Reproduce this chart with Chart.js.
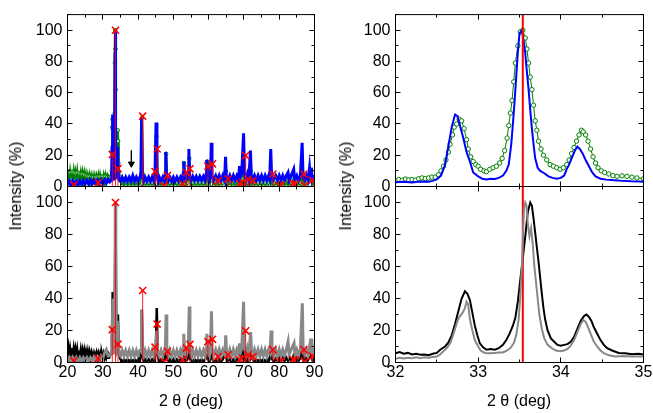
<!DOCTYPE html>
<html>
<head>
<meta charset="utf-8">
<script src="https://cdn.jsdelivr.net/npm/chart.js@4.4.0/dist/chart.umd.min.js"></script>
<style>
  html,body{margin:0;padding:0;background:#fff;}
  #wrap{position:relative;width:653px;height:413px;background:#fff;overflow:hidden;}
  #wrap canvas{position:absolute;left:0;top:0;}
  .t{position:absolute;font:16px 'Liberation Sans',Arial,sans-serif;color:#000;white-space:nowrap;transform:translate(-50%,-50%);}
  .ty{transform:translate(-50%,-50%) rotate(-90deg);}
</style>
</head>
<body>
<div id="wrap">
  <canvas id="cTL" width="653" height="413"></canvas>
  <canvas id="cBL" width="653" height="413"></canvas>
  <canvas id="cTR" width="653" height="413"></canvas>
  <canvas id="cBR" width="653" height="413"></canvas>
  <div class="t ty" style="left:16px;top:186px;">Intensity (%)</div>
  <div class="t ty" style="left:346px;top:186px;">Intensity (%)</div>
  <div class="t" style="left:191px;top:401px;">2 θ (deg)</div>
  <div class="t" style="left:519px;top:401px;">2 θ (deg)</div>
</div>
<script>
// ---------------- DATA ----------------
// full-range patterns (2theta, intensity %)
const vf474Wide = [[20,3.5],[20.25,9.5],[20.5,4],[20.75,9],[21,4.5],[21.25,9.5],[21.5,4],[21.75,9],[22,4],[22.25,8.5],[22.5,4.5],[22.75,9],[23,3.5],[23.25,8.5],[23.5,4],[23.75,8],[24,3.5],[24.25,8],[24.5,3.5],[24.75,7.5],[25,3],[25.25,7],[25.5,3],[25.75,6.5],[26,3],[26.25,6.5],[26.5,2.5],[26.75,6],[27,2.5],[27.25,6],[27.5,2.5],[27.75,6],[28,2.5],[28.25,6],[28.5,3],[28.75,6.5],[29,2.5],[29.25,6.5],[29.5,3],[29.75,6.5],[30,3],[30.25,6.5],[30.5,3],[30.75,6.5],[31,3],[31.25,6],[31.5,3.5],[31.75,6],[32,5],[32.3,6],[32.55,10],[32.64,22],[32.71,38],[32.77,43],[32.83,37],[32.88,24],[32.94,16],[33.0,13],[33.1,9.5],[33.22,13],[33.32,23],[33.39,47],[33.45,79],[33.51,99],[33.54,100],[33.59,88],[33.65,62],[33.71,36],[33.79,20],[33.91,13],[33.99,11],[34.1,17],[34.19,29],[34.25,36],[34.33,29],[34.42,15],[34.53,9],[34.68,6.5],[35,4],[35.5,0.3],[36,2.5],[36.5,0.3],[37,2.5],[37.5,0.3],[38,2.5],[38.5,0.3],[39,2.5],[39.5,0.3],[40,2.5],[40.5,0.3],[40.9,8],[41.1,44],[41.3,8],[41.7,0.3],[42,2.5],[42.5,0.3],[43,2.5],[43.5,0.3],[44,2.5],[44.5,0.3],[44.9,7],[45.2,32],[45.5,7],[45.8,0.3],[46.5,2.5],[47,0.3],[47.5,2.5],[47.7,6],[47.95,21],[48.2,5],[48.6,0.3],[49,2.5],[49.5,0.3],[50,2.5],[50.5,0.3],[51,2.5],[51.5,0.3],[52,2.5],[52.5,0.3],[52.75,6],[53.0,15],[53.25,5],[53.6,0.3],[54.0,2.5],[54.25,7],[54.5,18],[54.75,5],[55.2,0.3],[55.5,2.5],[56,0.3],[56.5,2.5],[57,0.3],[57.5,2.5],[58,0.3],[58.5,2.5],[59,0.3],[59.3,6],[59.55,16],[59.8,5],[60.2,0.3],[60.55,7],[60.8,15],[61.05,4],[61.5,0.3],[62,2.5],[62.5,0.3],[63,2.5],[63.5,0.3],[64,2.5],[64.6,4],[64.85,10],[65.1,0.3],[65.5,2.5],[66,0.3],[66.5,2.5],[67,0.3],[67.5,2.5],[68,0.3],[68.5,4],[68.8,8],[69.1,0.3],[69.6,5],[69.9,20],[70.2,4],[70.6,0.3],[71,2.5],[71.5,0.3],[71.9,10],[72.2,3],[72.6,0.3],[73,2.5],[73.5,0.3],[74,2.5],[74.5,0.3],[75,2.5],[75.5,0.3],[76,2.5],[76.5,0.3],[77,2.5],[77.4,4],[77.65,9],[77.9,0.3],[78.5,2.5],[79,0.3],[79.5,2.5],[80,0.3],[80.5,2.5],[81,0.3],[81.5,2.5],[82,0.3],[82.5,4],[83,0.3],[83.5,2.5],[84.1,5],[84.5,0.3],[85,2.5],[85.5,0.3],[86,2.5],[86.5,10],[86.8,0.3],[87.2,2.5],[87.5,0.3],[88,2.5],[88.6,5],[89.1,5],[89.5,0.3],[90,2.5]];

const vf527Wide = [[20,1],[20.5,3.5],[21,1],[21.5,3.5],[22,1.2],[22.5,3.5],[23,1.2],[23.5,3.5],[24,1.3],[24.5,3.6],[25,1.5],[25.5,3.8],[26,1.5],[26.5,4],[27,1.8],[27.5,4],[28,1.8],[28.5,4],[29,2],[29.5,4.2],[30,2],[30.5,4.2],[31,2.2],[31.5,4.5],[32,3],[32.4,4],[32.55,7],[32.64,26],[32.72,46],[32.79,37],[32.86,22],[32.94,9],[33.05,5],[33.2,4.8],[33.34,10],[33.42,40],[33.48,86],[33.53,100],[33.59,73],[33.65,37],[33.72,12],[33.85,6.5],[33.95,5],[34.07,11],[34.2,25.5],[34.3,17],[34.42,6.5],[34.6,4.2],[35,3.5],[35.5,6],[36,3.5],[36.5,6],[37,3.5],[37.5,6],[38,3.5],[38.5,7],[39,3.5],[39.5,6],[40,3.5],[40.5,6],[40.8,8],[41.0,44],[41.2,7],[41.6,3.5],[42,6],[42.5,3.5],[43,6],[43.5,3.5],[44,6],[44.5,3.5],[44.8,8],[45.1,41],[45.35,8],[45.7,3.5],[46,6],[46.5,3.5],[47,6],[47.5,3.5],[47.7,8],[47.85,22],[48.05,6],[48.5,3.5],[49,6],[49.5,3.5],[50,6],[50.5,3.5],[51,6],[51.5,3.5],[52,6],[52.5,4],[52.75,8],[52.95,16],[53.2,6],[53.6,4],[54,6],[54.2,8],[54.4,24],[54.6,6],[55,4],[55.5,6.5],[56,4],[56.5,6.5],[57,4],[57.5,6.5],[58,4],[58.5,6.5],[59,4],[59.3,8],[59.5,17],[59.7,6],[60.2,4],[60.55,9],[60.75,28],[60.95,7],[61.4,4],[62,7],[62.5,4],[63,7],[63.5,4],[64,7],[64.5,4],[64.8,19],[65.0,6],[65.5,4],[66,7],[66.5,4],[67,7],[67.5,4],[68,7],[68.5,4.5],[68.75,13],[68.95,6],[69.4,9],[69.9,34],[70.15,8],[70.6,4.5],[71,8],[71.4,4.5],[71.85,23],[72.1,6],[72.5,4],[73,7],[73.5,4],[74,7],[74.5,4],[75,7],[75.5,4],[76,7],[76.5,4],[77,7],[77.3,5],[77.6,24],[77.85,6],[78.3,4],[79,7],[79.5,4],[80,7],[80.5,4],[81,7],[81.5,4],[82,7],[82.5,9],[82.8,4],[83.4,7],[84.1,11],[84.4,4],[85,7],[85.5,4],[86,7],[86.5,28],[86.75,6],[87.2,4],[87.7,7],[88.2,4],[88.6,12],[88.9,4.5],[89.1,12],[89.4,4],[90,7]];

const vf467Wide = [[20,4],[20.25,9],[20.5,4],[20.75,8.5],[21,4.5],[21.25,9],[21.5,4],[21.75,8.5],[22,4],[22.25,8],[22.5,4],[22.75,8],[23,3.5],[23.25,7.5],[23.5,3.5],[23.75,7.5],[24,3],[24.25,7],[24.5,3],[24.75,7],[25,3],[25.25,6.5],[25.5,3],[25.75,6.5],[26,2.5],[26.25,6],[26.5,2.5],[26.75,5.5],[27,2],[27.25,5],[27.5,2],[27.75,5],[28,2.5],[28.25,5.5],[28.5,2.5],[28.75,5.5],[29,3],[29.25,5.5],[29.5,3],[29.75,5.5],[30,3],[30.25,5.5],[30.5,3],[30.75,5.5],[31,3],[31.25,5],[31.5,3],[31.75,5],[32,4],[32.4,6],[32.6,15],[32.8,44],[33.0,15],[33.2,8],[33.4,30],[33.62,100],[33.8,25],[34.0,10],[34.15,18],[34.3,30],[34.45,15],[34.6,5],[35,2],[35.5,0.5],[36,2],[36.5,0.5],[37,2],[37.5,0.5],[38,2],[38.5,0.5],[39,2],[39.5,0.5],[40,2],[40.5,0.5],[40.85,6],[41.05,33],[41.25,5],[41.6,0.5],[42,2],[42.5,0.5],[43,2],[43.5,0.5],[44,2],[44.5,0.5],[45.0,6],[45.3,34],[45.55,5],[46,0.5],[46.5,2],[47,0.5],[47.5,2],[47.7,4],[47.95,10],[48.2,2],[48.6,0.5],[49,2],[49.5,0.5],[50,2],[50.5,0.5],[51,2],[51.5,0.5],[52,2],[52.5,0.5],[53,6],[53.3,0.5],[54,2],[54.5,10],[54.8,2],[55.5,0.5],[56,2],[56.5,0.5],[57,2],[57.5,0.5],[58,2],[58.5,0.5],[59,2],[59.5,6],[59.8,2],[60.3,0.5],[60.8,9],[61.1,2],[61.5,0.5],[62,2],[62.5,0.5],[63,2],[63.5,0.5],[64,2],[64.9,6],[65.2,0.5],[66,2],[66.5,0.5],[67,2],[67.5,0.5],[68,2],[68.5,0.5],[69,2],[69.9,10],[70.2,2],[70.6,0.5],[71,2],[71.5,0.5],[72.1,6],[72.4,2],[73,0.5],[73.5,2],[74,0.5],[74.5,2],[75,0.5],[75.5,2],[76,0.5],[76.5,2],[77,0.5],[77.7,6],[78,2],[78.5,0.5],[79,2.5],[79.5,1],[80,3],[80.5,1],[81,3],[81.5,1],[82,3],[82.5,1],[83,3],[83.5,1],[84,4],[84.5,1],[85,3],[85.5,1],[86,3],[86.6,10],[86.9,1],[87.5,3],[88,1],[88.5,3],[89,4],[89.5,1],[90,3]];

const vf526Wide = [[20,0.5],[20.5,3],[21,0.5],[21.5,3],[22,0.5],[22.5,3],[23,0.5],[23.5,3],[24,0.8],[24.5,3],[25,1],[25.5,3],[26,1],[26.5,3],[27,1],[27.5,3.5],[28,1],[28.5,3.5],[29,1.5],[29.5,4],[30,2.5],[30.5,6],[31,8],[31.5,4],[32,4],[32.4,6],[32.6,15],[32.85,40],[33.0,12],[33.2,6],[33.4,25],[33.56,100],[33.7,40],[33.9,8],[34.1,10],[34.28,26],[34.45,10],[34.6,5],[35,4],[35.5,7.5],[36,4],[36.5,7.5],[37,4],[37.5,7.5],[38,4],[38.5,7.5],[39,4],[39.5,7.5],[40,4],[40.5,7.5],[40.85,8],[41.05,33],[41.25,6],[41.6,4],[42,7.5],[42.5,4],[43,7.5],[43.5,4],[44,7.5],[44.5,4],[45.0,7],[45.3,20],[45.55,6],[46,4],[46.5,7.5],[47,4],[47.5,7.5],[47.75,10],[47.95,30],[48.15,6],[48.6,4],[49,7.5],[49.5,4],[50,7.5],[50.5,4],[51,7.5],[51.5,4],[52,7.5],[52.5,4],[52.75,9],[52.95,18],[53.2,6],[53.6,4],[54,7.5],[54.25,10],[54.5,35],[54.7,7],[55.2,4],[55.5,7.5],[56,4],[56.5,7.5],[57,4],[57.5,7.5],[58,4],[58.5,7.5],[59,4],[59.3,9],[59.5,18],[59.7,7],[60.2,4],[60.55,10],[60.8,32],[61.0,8],[61.4,4],[62,8],[62.5,4],[63,8],[63.5,4],[64,8],[64.6,5],[64.85,17],[65.1,6],[65.5,4],[66,8],[66.5,4],[67,8],[67.5,4],[68,8],[68.5,5],[68.75,12],[69,6],[69.4,9],[69.9,38],[70.15,9],[70.6,5],[71,9],[71.4,5],[71.9,19],[72.15,7],[72.5,4],[73,8],[73.5,4],[74,8],[74.5,4],[75,8],[75.5,4],[76,8],[76.5,4],[77,8],[77.4,6],[77.7,20],[77.95,7],[78.4,4],[79,8],[79.5,4],[80,8],[80.5,4],[81,8],[81.5,4.5],[82,8],[82.5,13],[82.8,5],[83.4,8],[84.2,12],[84.5,4.5],[85,8],[85.5,4.5],[86,8],[86.55,37],[86.8,6],[87.2,4.5],[87.7,8],[88.2,5],[88.6,10],[88.9,5],[89.2,15],[89.5,5],[90,8]];

// calculated reference reflections (positions, intensities)
const refPos = [21.8,28.7,32.7,33.6,34.3,41.3,44.8,45.4,47.4,48.3,52.6,53.7,54.7,59.8,61.1,62.7,65.5,68.8,69.6,70.5,71.2,72.6,78.2,79.9,80.6,83.9,84.6,87.0,87.2,89.4];
const refInt = [1,2.5,20.5,100,11.5,45,9.6,24,0.5,7,1.7,9,11.3,13,14.5,3.7,4.8,1.7,2.7,19.8,4.8,3.7,8,0.6,0.8,1.7,1.5,8,0.5,4];

// arrow marking impurity peak (x, from, to)
const arrowMark = [38.1, 23, 14.5];

// zoomed region 32-35 deg
const vf474Zoom = [[32.0,3.8],[32.04,4.5],[32.08,4.0],[32.12,4.8],[32.16,4.2],[32.2,4.5],[32.24,4.0],[32.28,5.0],[32.32,5.5],[32.36,5.0],[32.4,5.5],[32.44,6.0],[32.48,6.0],[32.52,7.5],[32.55,10],[32.58,13],[32.61,17],[32.64,22],[32.66,27],[32.69,33],[32.71,38],[32.74,40],[32.77,43],[32.8,42],[32.83,37],[32.86,30],[32.88,24],[32.91,19],[32.94,16],[32.97,14],[33.0,13],[33.03,11],[33.07,10],[33.1,9.5],[33.14,11],[33.18,12],[33.22,13],[33.26,15],[33.29,18],[33.32,23],[33.35,31],[33.37,39],[33.39,47],[33.41,55],[33.43,67],[33.45,79],[33.48,90],[33.51,99],[33.54,100],[33.57,95],[33.59,88],[33.61,79],[33.63,70],[33.65,62],[33.67,52],[33.69,42],[33.71,36],[33.73,29],[33.76,24],[33.79,20],[33.83,17],[33.87,14],[33.91,13],[33.95,12],[33.99,11],[34.03,12],[34.07,14],[34.1,17],[34.13,21],[34.16,25],[34.19,29],[34.22,33],[34.25,36],[34.27,35],[34.3,33],[34.33,29],[34.36,24],[34.39,19],[34.42,15],[34.45,12],[34.49,10],[34.53,9],[34.58,8],[34.63,7],[34.68,6.5],[34.74,6.8],[34.8,6.5],[34.86,6],[34.92,5.5],[35.0,5]];

const vf527Zoom = [[32.0,2.7],[32.1,3.0],[32.2,2.6],[32.3,3.2],[32.4,3.0],[32.45,3.6],[32.5,4.5],[32.55,7],[32.6,14],[32.64,26],[32.68,38],[32.72,46],[32.75,45],[32.79,37],[32.82,31],[32.86,22],[32.9,16],[32.94,9],[33.0,6.5],[33.05,5],[33.1,4.5],[33.15,5],[33.2,4.8],[33.25,5.5],[33.3,7],[33.34,10],[33.37,14],[33.4,27],[33.42,40],[33.44,54],[33.46,70],[33.48,86],[33.5,98],[33.53,100],[33.55,93],[33.57,85],[33.59,73],[33.61,62],[33.63,49],[33.65,37],[33.67,27],[33.69,18],[33.72,12],[33.75,10],[33.8,8.5],[33.85,6.5],[33.9,5.5],[33.95,5],[34.0,5.5],[34.04,7],[34.07,11],[34.1,14],[34.13,18],[34.17,23],[34.2,25.5],[34.23,24],[34.26,21.5],[34.3,17],[34.34,13],[34.38,9],[34.42,6.5],[34.48,5],[34.55,4.4],[34.65,4],[34.75,3.6],[34.85,3.3],[34.95,3.2],[35.0,3]];

const vf467Zoom = [[32.0,5.8],[32.05,6.5],[32.1,5.5],[32.15,6],[32.2,5],[32.25,5.5],[32.3,4.8],[32.35,5],[32.4,4.6],[32.45,5.5],[32.5,6],[32.54,8],[32.6,10],[32.64,12.5],[32.68,17],[32.72,24],[32.76,32],[32.8,40],[32.84,44.5],[32.87,43],[32.9,39],[32.93,31],[32.96,23],[32.99,17],[33.02,12],[33.06,9.5],[33.1,8],[33.15,8.5],[33.2,8],[33.25,9],[33.3,11],[33.34,14],[33.38,18],[33.42,23],[33.45,28],[33.48,38],[33.51,52],[33.54,65],[33.57,79],[33.6,94],[33.63,100],[33.65,98],[33.67,90],[33.69,81],[33.71,72],[33.73,63],[33.75,53],[33.77,43],[33.79,34],[33.81,27],[33.84,20],[33.88,15],[33.92,13],[33.96,11],[34.0,10.5],[34.04,11],[34.08,11.5],[34.12,13],[34.16,16],[34.2,21],[34.24,26],[34.28,29],[34.31,30],[34.34,28.5],[34.37,26],[34.4,22],[34.44,18],[34.48,14],[34.52,11],[34.56,9],[34.62,7.5],[34.7,6],[34.78,5.8],[34.86,5.2],[34.94,5.5],[35.0,5]];

const vf526Zoom = [[32.0,2.3],[32.05,3],[32.1,2.5],[32.15,3],[32.2,2.6],[32.25,3.2],[32.3,2.7],[32.35,3.2],[32.4,3],[32.45,3.5],[32.5,3.8],[32.54,5],[32.58,7],[32.62,9],[32.66,12],[32.69,16],[32.72,21],[32.75,26],[32.78,29],[32.81,31],[32.84,34],[32.86,38],[32.88,36],[32.9,27],[32.93,20],[32.96,14],[32.99,11],[33.03,7.5],[33.08,6],[33.14,5.8],[33.2,6],[33.25,6.2],[33.3,6.3],[33.35,7.5],[33.39,9],[33.43,12],[33.46,17],[33.49,27],[33.51,42],[33.53,62],[33.545,84],[33.555,96],[33.57,100],[33.585,98],[33.6,87],[33.62,79],[33.64,84],[33.66,74],[33.68,60],[33.7,50],[33.72,40],[33.74,30],[33.77,21],[33.8,15],[33.84,11],[33.89,9],[33.94,7.5],[33.99,7],[34.04,7.5],[34.08,8.5],[34.12,10.5],[34.16,14],[34.2,19],[34.24,24],[34.27,26.5],[34.3,25.5],[34.33,22],[34.36,18],[34.4,13],[34.44,10],[34.48,7.5],[34.52,5.8],[34.58,4.5],[34.66,3.8],[34.75,4],[34.85,3.8],[34.95,3.8],[35.0,3.8]];

// position of the main reference reflection in zoom panels
const mainRef = 33.54;

// tick settings
const wideRange = [20, 90], wideStep = 5, wideLabelEvery = 10;
const zoomRange = [32, 35], zoomStep = 0.5;
const yRange = [0, 110], yStep = 10, yLabelEvery = 20, yLabelMax = 100;

// ---------------- HELPERS ----------------
const FONT = "'Liberation Sans', Arial, Helvetica, sans-serif";
Chart.defaults.font.family = FONT;
Chart.defaults.color = '#000';
const pts = a => a.map(([x, y]) => ({x, y}));

const GREEN = '#008000', BLUE = '#0000ff', BLACK = '#000000', GRAY = '#888888', RED = '#ff0000';

const sticks = [];
refPos.forEach((p, i) => { sticks.push({x: p, y: 0}, {x: p, y: refInt[i]}, {x: p, y: null}); });
const crosses = refPos.map((p, i) => ({x: p, y: refInt[i]}));
const arrowData = [{x: arrowMark[0], y: arrowMark[1]}, {x: arrowMark[0], y: arrowMark[2]}];
const refLine = [{x: mainRef, y: yRange[0]}, {x: mainRef, y: yRange[1]}];

const frameTicks = {
  id: 'frameTicks',
  afterDatasetsDraw(chart) {
    const ctx = chart.ctx, a = chart.chartArea, xs = chart.scales.x, ys = chart.scales.y;
    ctx.save();
    ctx.strokeStyle = '#000';
    ctx.lineWidth = 1;
    ctx.beginPath();
    xs.ticks.forEach(t => {
      const px = Math.round(xs.getPixelForValue(t.value) - 0.5) + 0.5;
      const L = t.label !== '' ? 5 : 3;
      ctx.moveTo(px, a.bottom); ctx.lineTo(px, a.bottom - L);
      ctx.moveTo(px, a.top); ctx.lineTo(px, a.top + L);
    });
    ys.ticks.forEach(t => {
      const py = Math.round(ys.getPixelForValue(t.value) - 0.5) + 0.5;
      const L = t.label !== '' ? 5 : 3;
      ctx.moveTo(a.left, py); ctx.lineTo(a.left + L, py);
      ctx.moveTo(a.right, py); ctx.lineTo(a.right - L, py);
    });
    ctx.stroke();
    ctx.strokeRect(a.left, a.top, a.right - a.left, a.bottom - a.top);
    ctx.restore();
  }
};

const legendCfg = {};
const panelLegend = {
  id: 'panelLegend',
  afterDraw(chart) {
    const o = legendCfg[chart.canvas.id];
    if (!o) return;
    const ctx = chart.ctx;
    ctx.save();
    ctx.fillStyle = '#000';
    ctx.textAlign = 'left';
    ctx.textBaseline = 'alphabetic';
    let x = o.x;
    const base = o.y + 5;
    o.title.forEach(([s, sub]) => {
      ctx.font = (sub ? '10px ' : '14px ') + FONT;
      ctx.fillText(s, x, sub ? base + 3 : base);
      x += ctx.measureText(s).width;
    });
    o.entries.forEach(e => {
      const ds = chart.data.datasets[e.index];
      ctx.strokeStyle = ds.borderColor;
      ctx.lineWidth = e.lw;
      ctx.beginPath(); ctx.moveTo(e.x, e.y); ctx.lineTo(e.x + e.len, e.y); ctx.stroke();
      if (e.marker) {
        ctx.beginPath(); ctx.arc(e.x + e.len / 2, e.y, 2.2, 0, Math.PI * 2);
        ctx.fillStyle = '#fff'; ctx.fill(); ctx.lineWidth = 1; ctx.stroke();
      }
      ctx.fillStyle = '#000';
      ctx.font = '14px ' + FONT;
      ctx.textBaseline = 'middle';
      ctx.fillText(ds.label, e.x + e.len + 3, e.y + 1);
      ctx.textBaseline = 'alphabetic';
    });
    ctx.restore();
  }
};

function xScale(range, step, labels, isLabel) {
  return {
    type: 'linear', min: range[0], max: range[1],
    ticks: {
      stepSize: step, autoSkip: false, maxRotation: 0, minRotation: 0,
      display: labels, padding: 0, color: '#000', font: {size: 16, family: FONT},
      callback: v => isLabel(v) ? String(v) : ''
    },
    grid: {display: false, drawTicks: false},
    border: {display: false},
    afterFit: s => { s.height = labels ? 30 : 0; }
  };
}
function yScale() {
  return {
    type: 'linear', min: yRange[0], max: yRange[1],
    ticks: {
      stepSize: yStep, autoSkip: false, padding: 5, color: '#000', font: {size: 16, family: FONT},
      callback: v => (v % yLabelEvery === 0 && v <= yLabelMax) ? String(v) : ''
    },
    grid: {display: false, drawTicks: false},
    border: {display: false},
    afterFit: s => { s.width = 40; }
  };
}

function makePanel(id, area, xs, labels, datasets) {
  new Chart(document.getElementById(id), {
    type: 'line',
    data: {datasets},
    options: {
      responsive: false, animation: false, events: [],
      layout: {padding: {left: area.l - 40, right: 653 - area.r, top: area.t, bottom: 413 - area.b - (labels ? 30 : 0)}},
      scales: {x: xs, y: yScale()},
      plugins: {legend: {display: false}, tooltip: {enabled: false}}
    },
    plugins: [frameTicks, panelLegend]
  });
}

const base = {pointRadius: 0, borderWidth: 1.5, tension: 0, clip: 0, spanGaps: false, fill: false};
const stickDs = Object.assign({}, base, {label: 'calc', data: sticks, borderColor: 'rgba(255,0,0,0.85)', borderWidth: 1, order: 1});
const crossDs = Object.assign({}, base, {label: 'calc peaks', data: crosses, showLine: false, borderColor: RED,
  pointStyle: 'crossRot', pointRadius: 5, pointBorderWidth: 1.6, pointBorderColor: RED, order: 0});

const isWideLabel = v => v % wideLabelEvery === 0;
const isZoomLabel = v => Number.isInteger(v);

const L = {l: 67.5, r: 314.5}, R = {l: 395.5, r: 643.5};
const TOP = {t: 10.5, b: 186.5}, BOT = {t: 186.5, b: 362.5};

// ---------- top-left: AGF wide ----------
makePanel('cTL', {l: L.l, r: L.r, t: TOP.t, b: TOP.b}, xScale(wideRange, wideStep, false, isWideLabel), false, [
  Object.assign({}, base, {label: 'VF474', data: pts(vf474Wide), borderColor: GREEN, borderWidth: 2.5,
    pointRadius: 1.8, pointBorderWidth: 1, pointBorderColor: GREEN, pointBackgroundColor: 'rgba(255,255,255,0.5)', order: 4}),
  Object.assign({}, base, {label: 'VF527', data: pts(vf527Wide), borderColor: BLUE, borderWidth: 3, order: 3}),
  stickDs, crossDs,
  Object.assign({}, base, {label: 'arrow', data: arrowData, borderColor: BLACK, borderWidth: 1,
    pointRadius: [0, 3.5], pointStyle: 'triangle', pointRotation: 180, pointBackgroundColor: BLACK, pointBorderColor: BLACK, pointBorderWidth: 1, order: 0})
]);
legendCfg.cTL = {x: 200, y: 26, title: [['CeAu', 0], ['2', 1], ['Ge', 0], ['2', 1], [' (AGF)', 0]],
  entries: [{index: 0, x: 200, y: 47, len: 32, lw: 1.5, marker: true}, {index: 1, x: 200, y: 62.5, len: 32, lw: 2.5}]};

// ---------- bottom-left: SF wide ----------
makePanel('cBL', {l: L.l, r: L.r, t: BOT.t, b: BOT.b}, xScale(wideRange, wideStep, true, isWideLabel), true, [
  Object.assign({}, base, {label: 'VF467', data: pts(vf467Wide), borderColor: BLACK, borderWidth: 2.5, order: 4}),
  Object.assign({}, base, {label: 'VF526', data: pts(vf526Wide), borderColor: GRAY, borderWidth: 3, order: 3}),
  Object.assign({}, stickDs), Object.assign({}, crossDs)
]);
legendCfg.cBL = {x: 205, y: 203, title: [['CeAu', 0], ['2', 1], ['Ge', 0], ['2', 1], [' (SF)', 0]],
  entries: [{index: 0, x: 205, y: 223.5, len: 32, lw: 2.5}, {index: 1, x: 205, y: 241, len: 32, lw: 2.5}]};

// ---------- top-right: AGF zoom ----------
makePanel('cTR', {l: R.l, r: R.r, t: TOP.t, b: TOP.b}, xScale(zoomRange, zoomStep, false, isZoomLabel), false, [
  Object.assign({}, base, {label: 'VF474', data: pts(vf474Zoom), borderColor: GREEN, borderWidth: 1,
    pointRadius: 2.2, pointBorderWidth: 1, pointBorderColor: GREEN, pointBackgroundColor: '#fff', order: 3}),
  Object.assign({}, base, {label: 'VF527', data: pts(vf527Zoom), borderColor: BLUE, borderWidth: 2, order: 2}),
  Object.assign({}, base, {label: 'ref', data: refLine, borderColor: RED, borderWidth: 2, order: 0})
]);
legendCfg.cTR = {x: 400, y: 23.5, title: [['CeAu', 0], ['2', 1], ['Ge', 0], ['2', 1], [' (AGF)', 0]],
  entries: [{index: 0, x: 398, y: 43.5, len: 32, lw: 1.5, marker: true}, {index: 1, x: 398, y: 60, len: 32, lw: 2.5}]};

// ---------- bottom-right: SF zoom ----------
makePanel('cBR', {l: R.l, r: R.r, t: BOT.t, b: BOT.b}, xScale(zoomRange, zoomStep, true, isZoomLabel), true, [
  Object.assign({}, base, {label: 'VF467', data: pts(vf467Zoom), borderColor: BLACK, borderWidth: 2, order: 3}),
  Object.assign({}, base, {label: 'VF526', data: pts(vf526Zoom), borderColor: GRAY, borderWidth: 2, order: 1}),
  Object.assign({}, base, {label: 'ref', data: refLine, borderColor: RED, borderWidth: 2, order: 2})
]);
legendCfg.cBR = {x: 403, y: 203.5, title: [['CeAu', 0], ['2', 1], ['Ge', 0], ['2', 1], [' (SF)', 0]],
  entries: [{index: 0, x: 402, y: 223.5, len: 33, lw: 2.5}, {index: 1, x: 402, y: 241, len: 33, lw: 2.5}]};
</script>
</body>
</html>
